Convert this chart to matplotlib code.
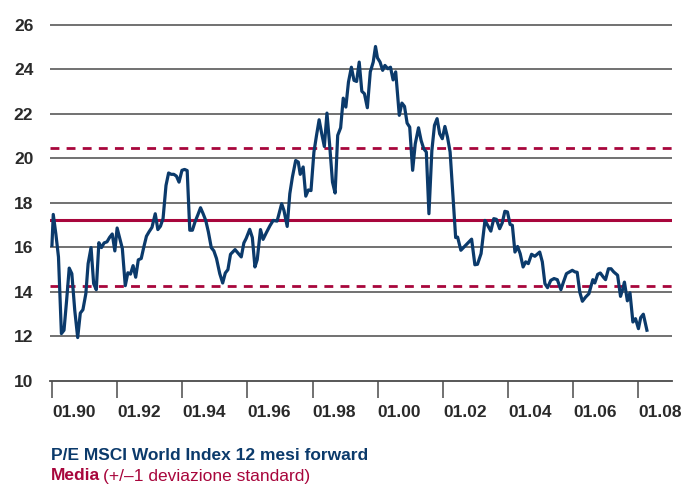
import numpy as np
import matplotlib.pyplot as plt

plt.rcParams['font.family'] = ['Liberation Sans', 'DejaVu Sans']

# P/E 12 mesi forward, MSCI World (decimal year, value)
dates = [1990.00, 1990.04, 1990.12, 1990.20, 1990.29, 1990.37, 1990.45, 1990.53,
         1990.61, 1990.70, 1990.79, 1990.87, 1990.95, 1991.04, 1991.11, 1991.20,
         1991.28, 1991.36, 1991.44, 1991.52, 1991.60, 1991.69, 1991.77, 1991.85,
         1991.93, 1992.00, 1992.08, 1992.16, 1992.25, 1992.33, 1992.41, 1992.49,
         1992.57, 1992.65, 1992.74, 1992.82, 1992.90, 1992.98, 1993.07, 1993.17,
         1993.25, 1993.33, 1993.41, 1993.50, 1993.58, 1993.66, 1993.74, 1993.82,
         1993.90, 1993.99, 1994.07, 1994.15, 1994.23, 1994.31, 1994.39, 1994.48,
         1994.56, 1994.64, 1994.72, 1994.80, 1994.89, 1994.97, 1995.05, 1995.15,
         1995.24, 1995.32, 1995.40, 1995.48, 1995.62, 1995.81, 1995.89, 1995.96,
         1996.07, 1996.15, 1996.23, 1996.30, 1996.40, 1996.48, 1996.58, 1996.69,
         1996.79, 1996.91, 1997.05, 1997.12, 1997.22, 1997.30, 1997.38, 1997.48,
         1997.56, 1997.62, 1997.71, 1997.79, 1997.87, 1997.95, 1998.04, 1998.12,
         1998.20, 1998.28, 1998.36, 1998.44, 1998.52, 1998.61, 1998.69, 1998.77,
         1998.86, 1998.94, 1999.02, 1999.10, 1999.19, 1999.27, 1999.35, 1999.43,
         1999.51, 1999.59, 1999.68, 1999.77, 1999.86, 1999.93, 1999.99, 2000.07,
         2000.15, 2000.22, 2000.31, 2000.39, 2000.47, 2000.55, 2000.66, 2000.74,
         2000.82, 2000.90, 2000.98, 2001.07, 2001.15, 2001.25, 2001.33, 2001.41,
         2001.49, 2001.57, 2001.66, 2001.74, 2001.82, 2001.90, 2001.98, 2002.06,
         2002.14, 2002.22, 2002.31, 2002.39, 2002.45, 2002.55, 2002.65, 2002.75,
         2002.88, 2002.98, 2003.06, 2003.17, 2003.29, 2003.39, 2003.47, 2003.56,
         2003.64, 2003.74, 2003.82, 2003.90, 2003.98, 2004.06, 2004.13, 2004.21,
         2004.29, 2004.37, 2004.46, 2004.54, 2004.62, 2004.72, 2004.82, 2004.97,
         2005.05, 2005.13, 2005.21, 2005.31, 2005.41, 2005.51, 2005.62, 2005.70,
         2005.79, 2005.97, 2006.05, 2006.12, 2006.20, 2006.28, 2006.38, 2006.48,
         2006.60, 2006.66, 2006.75, 2006.83, 2006.92, 2006.99, 2007.08, 2007.16,
         2007.24, 2007.36, 2007.45, 2007.53, 2007.57, 2007.66, 2007.74, 2007.83,
         2007.91, 2008.00, 2008.07, 2008.15, 2008.26]
pe = [16.09, 17.48, 16.60, 15.57, 12.13, 12.28, 13.62, 15.07,
      14.82, 13.17, 11.95, 13.05, 13.20, 13.92, 15.27, 15.99,
      14.37, 14.10, 16.21, 15.99, 16.20, 16.25, 16.45, 16.60,
      15.84, 16.87, 16.40, 15.95, 14.28, 14.86, 14.80, 15.18,
      14.66, 15.44, 15.50, 16.02, 16.50, 16.70, 16.90, 17.51,
      16.80, 16.95, 17.30, 18.78, 19.34, 19.28, 19.28, 19.20,
      18.93, 19.46, 19.50, 19.45, 16.77, 16.77, 17.14, 17.47,
      17.78, 17.51, 17.21, 16.70, 15.99, 15.84, 15.50, 14.82,
      14.40, 14.85, 15.00, 15.69, 15.90, 15.57, 16.20, 16.40,
      16.81, 16.44, 15.12, 15.45, 16.80, 16.36, 16.66, 16.97,
      17.21, 17.18, 17.96, 17.66, 16.94, 18.41, 19.16, 19.90,
      19.83, 19.28, 19.61, 18.30, 18.58, 18.55, 20.28, 21.03,
      21.73, 21.10, 20.53, 22.03, 20.65, 18.93, 18.44, 21.03,
      21.37, 22.70, 22.30, 23.42, 24.09, 23.50, 23.45, 24.32,
      23.01, 22.90, 22.27, 23.88, 24.32, 25.02, 24.51, 24.32,
      23.95, 24.17, 24.02, 24.09, 23.52, 23.88, 21.93, 22.48,
      22.33, 21.58, 21.40, 19.46, 20.65, 21.37, 20.80, 20.43,
      20.28, 17.51, 20.35, 21.48, 21.78, 21.10, 20.88, 21.43,
      20.95, 20.28, 18.26, 16.44, 16.46, 15.87, 16.02, 16.17,
      16.37, 15.22, 15.24, 15.72, 17.21, 16.94, 16.73, 17.29,
      17.26, 16.84, 17.10, 17.62, 17.59, 17.03, 16.99, 15.79,
      16.04, 15.72, 15.12, 15.35, 15.27, 15.69, 15.60, 15.79,
      15.35, 14.37, 14.19, 14.52, 14.60, 14.55, 14.10, 14.45,
      14.82, 14.97, 14.90, 14.88, 13.99, 13.58, 13.77, 13.92,
      14.55, 14.40, 14.79, 14.85, 14.67, 14.55, 15.04, 15.04,
      14.90, 14.75, 13.80, 14.19, 14.44, 13.60, 13.96, 12.65,
      12.80, 12.35, 12.85, 13.00, 12.28]

media = 17.25
dev_sup = 20.45
dev_inf = 14.25

x_ticks = [1990, 1992, 1994, 1996, 1998, 2000, 2002, 2004, 2006, 2008]
x_labels = ['01.90', '01.92', '01.94', '01.96', '01.98',
            '01.00', '01.02', '01.04', '01.06', '01.08']
y_ticks = [10, 12, 14, 16, 18, 20, 22, 24, 26]

blu = '#0b3a6b'
rosso = '#a8063c'
testo = '#2a2a2a'
fs = 12.5

fig = plt.figure(figsize=(6.88, 4.87), dpi=100)
ax = fig.add_axes([50 / 688, 1 - 381 / 487, 622 / 688, 357 / 487])

for y in y_ticks[1:]:
    ax.axhline(y, color='#4a4a4a', lw=1.1, zorder=1)

ax.axhline(media, color=rosso, lw=2.2, zorder=2)
ax.axhline(dev_sup, color=rosso, lw=2.0, ls=(0, (3.2, 2.6)), zorder=2)
ax.axhline(dev_inf, color=rosso, lw=2.0, ls=(0, (3.2, 2.6)), zorder=2)

ax.plot(dates, pe, color=blu, lw=2.3, solid_joinstyle='round', zorder=3)

ax.set_xlim(1989.94, 2009.03)
ax.set_ylim(10, 26.03)

for s in ['top', 'right', 'left']:
    ax.spines[s].set_visible(False)
ax.spines['bottom'].set_color('#4a4a4a')
ax.spines['bottom'].set_linewidth(1.3)

ax.set_yticks(y_ticks)
ax.set_yticklabels([str(v) for v in y_ticks])
ax.tick_params(axis='y', length=0, pad=12, labelsize=fs, labelcolor=testo)
for lab in ax.get_yticklabels():
    lab.set_fontweight('bold')

ax.set_xticks(x_ticks)
ax.set_xticklabels(x_labels)
ax.tick_params(axis='x', direction='out', length=12, width=1.1, color='#4a4a4a',
               pad=5, labelsize=fs, labelcolor=testo)
for lab in ax.get_xticklabels():
    lab.set_fontweight('bold')
    lab.set_horizontalalignment('left')

fig.text(51 / 688, 1 - 456 / 487, 'P/E MSCI World Index 12 mesi forward',
         color=blu, fontsize=fs, fontweight='bold', va='center')
t = fig.text(51 / 688, 1 - 476 / 487, 'Media', color=rosso, fontsize=fs,
             fontweight='bold', va='center')
fig.canvas.draw()
bb = t.get_window_extent()
fig.text(bb.x1 / fig.bbox.width + 3 / 688, 1 - 476 / 487, '(+/\u20131 deviazione standard)',
         color=rosso, fontsize=fs, va='center')

fig.savefig('out.png', dpi=100)
